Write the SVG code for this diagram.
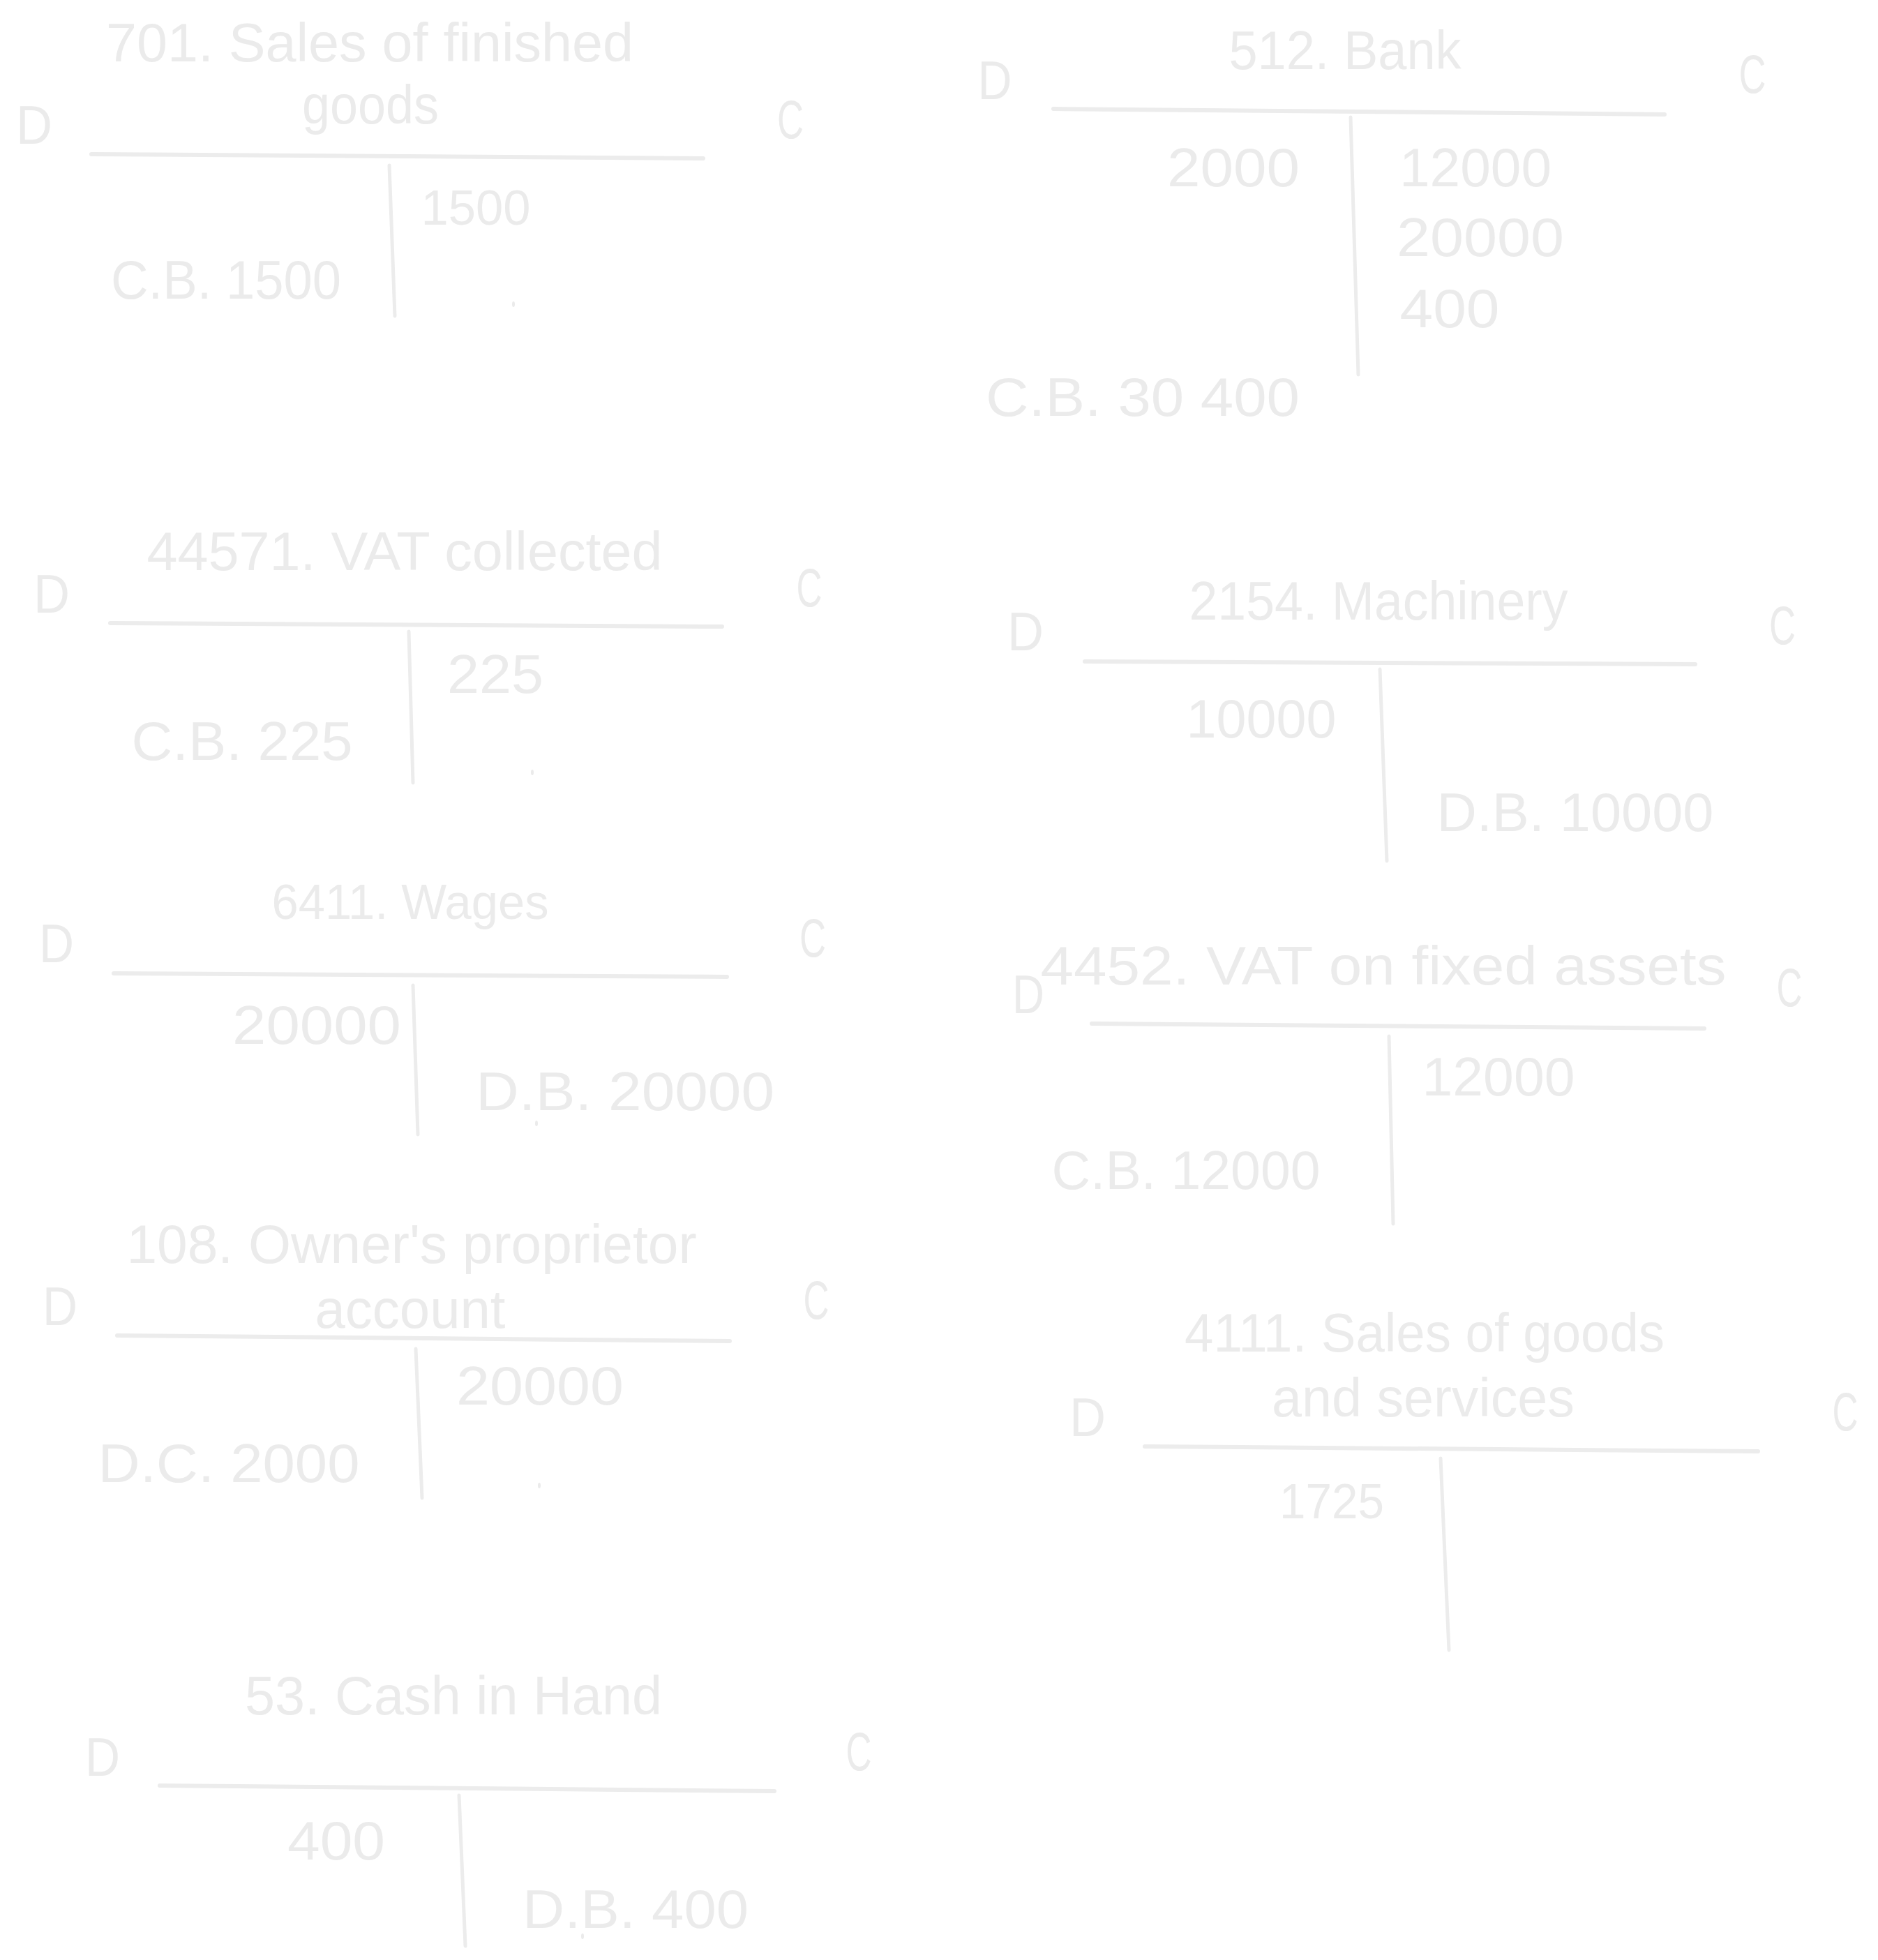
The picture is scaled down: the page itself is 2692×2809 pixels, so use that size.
<svg xmlns="http://www.w3.org/2000/svg" width="2692" height="2809" viewBox="0 0 2692 2809">
<style>
text{font-family:"Liberation Sans","DejaVu Sans",sans-serif;font-size:78px;fill:#ebebeb;text-anchor:middle}
.sm{font-size:70px}
.ln{stroke:#ececec;stroke-width:6;stroke-linecap:round;fill:none}
.vl{stroke:#ececec;stroke-width:5;stroke-linecap:round;fill:none}
.dot{fill:#ebebeb}
</style>
<rect width="2692" height="2809" fill="#ffffff"/>

<g id="acc-701">
<text x="530" y="88" textLength="756" lengthAdjust="spacingAndGlyphs">701. Sales of finished</text>
<text x="531" y="177" textLength="196" lengthAdjust="spacingAndGlyphs">goods</text>
<text x="49" y="206" textLength="52" lengthAdjust="spacingAndGlyphs">D</text>
<text x="1133" y="198" textLength="38" lengthAdjust="spacingAndGlyphs">C</text>
<line class="ln" x1="131" y1="221" x2="1008" y2="227"/>
<line class="vl" x1="558" y1="237" x2="566" y2="453"/>
<text class="sm" x="682" y="322" textLength="157" lengthAdjust="spacingAndGlyphs">1500</text>
<text x="324" y="428" textLength="330" lengthAdjust="spacingAndGlyphs">C.B. 1500</text>
<ellipse class="dot" cx="736" cy="436" rx="2" ry="4"/>
</g>

<g id="acc-512">
<text x="1928" y="99" textLength="333" lengthAdjust="spacingAndGlyphs">512. Bank</text>
<text x="1426" y="142" textLength="49" lengthAdjust="spacingAndGlyphs">D</text>
<text x="2512" y="133" textLength="39" lengthAdjust="spacingAndGlyphs">C</text>
<line class="ln" x1="1510" y1="156" x2="2386" y2="164"/>
<line class="vl" x1="1936" y1="168" x2="1947" y2="537"/>
<text x="1768" y="267" textLength="190" lengthAdjust="spacingAndGlyphs">2000</text>
<text x="2115" y="267" textLength="218" lengthAdjust="spacingAndGlyphs">12000</text>
<text x="2122" y="367" textLength="240" lengthAdjust="spacingAndGlyphs">20000</text>
<text x="2078" y="469" textLength="143" lengthAdjust="spacingAndGlyphs">400</text>
<text x="1638" y="596" textLength="450" lengthAdjust="spacingAndGlyphs">C.B. 30 400</text>
</g>

<g id="acc-44571">
<text x="580" y="817" textLength="739" lengthAdjust="spacingAndGlyphs">44571. VAT collected</text>
<text x="74" y="878" textLength="52" lengthAdjust="spacingAndGlyphs">D</text>
<text x="1160" y="869" textLength="37" lengthAdjust="spacingAndGlyphs">C</text>
<line class="ln" x1="158" y1="893" x2="1035" y2="898"/>
<line class="vl" x1="586" y1="905" x2="592" y2="1122"/>
<text x="710" y="993" textLength="138" lengthAdjust="spacingAndGlyphs">225</text>
<text x="347" y="1089" textLength="317" lengthAdjust="spacingAndGlyphs">C.B. 225</text>
<ellipse class="dot" cx="763" cy="1107" rx="2" ry="4"/>
</g>

<g id="acc-2154">
<text x="1976" y="888" textLength="543" lengthAdjust="spacingAndGlyphs">2154. Machinery</text>
<text x="1470" y="932" textLength="52" lengthAdjust="spacingAndGlyphs">D</text>
<text x="2555" y="923" textLength="38" lengthAdjust="spacingAndGlyphs">C</text>
<line class="ln" x1="1555" y1="948" x2="2430" y2="952"/>
<line class="vl" x1="1978" y1="959" x2="1988" y2="1234"/>
<text x="1808" y="1057" textLength="215" lengthAdjust="spacingAndGlyphs">10000</text>
<text x="2258" y="1191" textLength="397" lengthAdjust="spacingAndGlyphs">D.B. 10000</text>
</g>

<g id="acc-6411">
<text class="sm" x="588" y="1317" textLength="397" lengthAdjust="spacingAndGlyphs">6411. Wages</text>
<text x="81" y="1379" textLength="50" lengthAdjust="spacingAndGlyphs">D</text>
<text x="1165" y="1371" textLength="38" lengthAdjust="spacingAndGlyphs">C</text>
<line class="ln" x1="163" y1="1395" x2="1042" y2="1400"/>
<line class="vl" x1="592" y1="1412" x2="599" y2="1626"/>
<text x="454" y="1496" textLength="242" lengthAdjust="spacingAndGlyphs">20000</text>
<text x="896" y="1591" textLength="428" lengthAdjust="spacingAndGlyphs">D.B. 20000</text>
<ellipse class="dot" cx="769" cy="1610" rx="2" ry="4"/>
</g>

<g id="acc-4452">
<text x="1983" y="1411" textLength="983" lengthAdjust="spacingAndGlyphs">4452. VAT on fixed assets</text>
<text x="1474" y="1452" textLength="46" lengthAdjust="spacingAndGlyphs">D</text>
<text x="2565" y="1442" textLength="37" lengthAdjust="spacingAndGlyphs">C</text>
<line class="ln" x1="1565" y1="1467" x2="2443" y2="1474"/>
<line class="vl" x1="1991" y1="1485" x2="1997" y2="1754"/>
<text x="2148" y="1570" textLength="219" lengthAdjust="spacingAndGlyphs">12000</text>
<text x="1700" y="1704" textLength="385" lengthAdjust="spacingAndGlyphs">C.B. 12000</text>
</g>

<g id="acc-108">
<text x="590" y="1810" textLength="817" lengthAdjust="spacingAndGlyphs">108. Owner's proprietor</text>
<text x="588" y="1903" textLength="273" lengthAdjust="spacingAndGlyphs">account</text>
<text x="86" y="1899" textLength="50" lengthAdjust="spacingAndGlyphs">D</text>
<text x="1170" y="1890" textLength="37" lengthAdjust="spacingAndGlyphs">C</text>
<line class="ln" x1="168" y1="1914" x2="1046" y2="1922"/>
<line class="vl" x1="596" y1="1933" x2="605" y2="2147"/>
<text x="774" y="2013" textLength="240" lengthAdjust="spacingAndGlyphs">20000</text>
<text x="328" y="2124" textLength="375" lengthAdjust="spacingAndGlyphs">D.C. 2000</text>
<ellipse class="dot" cx="773" cy="2129" rx="2" ry="4"/>
</g>

<g id="acc-4111">
<text x="2042" y="1937" textLength="688" lengthAdjust="spacingAndGlyphs">4111. Sales of goods</text>
<text x="2040" y="2030" textLength="434" lengthAdjust="spacingAndGlyphs">and services</text>
<text x="1559" y="2058" textLength="52" lengthAdjust="spacingAndGlyphs">D</text>
<text x="2645" y="2050" textLength="37" lengthAdjust="spacingAndGlyphs">C</text>
<line class="ln" x1="1641" y1="2073" x2="2520" y2="2080"/>
<line class="vl" x1="2065" y1="2090" x2="2077" y2="2365"/>
<text class="sm" x="1909" y="2176" textLength="150" lengthAdjust="spacingAndGlyphs">1725</text>
</g>

<g id="acc-53">
<text x="650" y="2457" textLength="598" lengthAdjust="spacingAndGlyphs">53. Cash in Hand</text>
<text x="147" y="2545" textLength="50" lengthAdjust="spacingAndGlyphs">D</text>
<text x="1231" y="2537" textLength="37" lengthAdjust="spacingAndGlyphs">C</text>
<line class="ln" x1="229" y1="2559" x2="1110" y2="2567"/>
<line class="vl" x1="658" y1="2573" x2="667" y2="2789"/>
<text x="482" y="2665" textLength="140" lengthAdjust="spacingAndGlyphs">400</text>
<text x="911" y="2763" textLength="324" lengthAdjust="spacingAndGlyphs">D.B. 400</text>
<ellipse class="dot" cx="835" cy="2775" rx="2" ry="4"/>
</g>

<g id="connectors"></g>
</svg>
